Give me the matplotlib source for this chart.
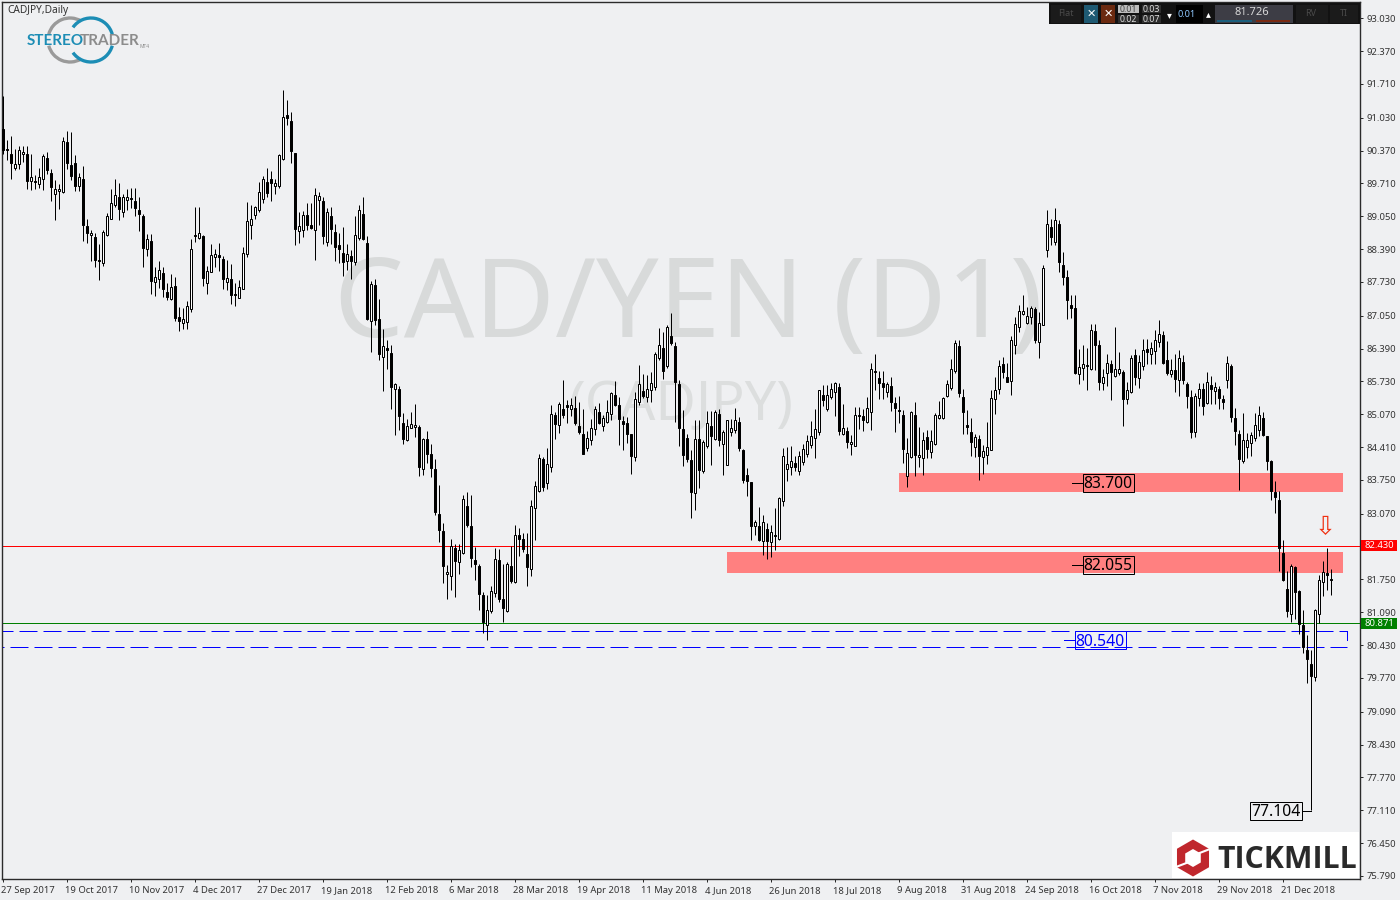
import matplotlib
matplotlib.use('Agg')
import matplotlib.pyplot as plt
from matplotlib.patches import Rectangle, RegularPolygon, Arc
from matplotlib.transforms import ScaledTranslation

# daily CADJPY candles
opens = [
    90.81, 90.40, 90.30, 90.02, 90.11, 90.31, 90.31, 89.75, 89.75, 89.70,
    89.79, 90.23, 89.93, 89.50, 89.56, 89.54, 90.55, 90.09, 90.13, 89.65,
    89.80, 88.86, 88.68, 88.64, 88.16, 88.12, 88.68, 89.00, 89.28, 89.44,
    89.14, 89.38, 89.42, 89.36, 89.18, 89.05, 88.40, 88.56, 87.73, 87.79,
    87.91, 87.53, 87.39, 87.65, 87.03, 86.91, 86.93, 87.19, 88.68, 88.62,
    88.66, 87.71, 87.94, 88.24, 88.28, 88.20, 87.73, 87.79, 87.49, 87.41,
    87.59, 88.30, 88.88, 89.07, 89.18, 89.40, 89.74, 89.80, 89.66, 89.66,
    90.20, 91.09, 90.97, 90.33, 88.76, 88.78, 89.08, 88.88, 88.78, 89.38,
    89.36, 88.54, 89.06, 88.74, 88.48, 88.32, 88.16, 88.26, 88.13, 88.61,
    89.10, 88.51, 86.95, 87.67, 86.98, 86.23, 86.40, 86.31, 85.58, 85.57,
    84.90, 84.56, 84.80, 84.81, 84.81, 83.98, 84.58, 84.27, 83.98, 83.07,
    82.72, 81.87, 81.83, 82.38, 82.11, 82.29, 83.22, 82.82, 82.15, 82.02,
    81.43, 80.83, 81.11, 81.47, 82.15, 81.35, 81.11, 82.03, 81.69, 82.65,
    82.57, 82.26, 81.97, 83.19, 83.53, 84.17, 83.68, 84.02, 85.05, 84.85,
    85.17, 85.25, 85.18, 85.19, 84.83, 84.68, 84.40, 84.55, 84.77, 85.11,
    84.84, 84.91, 85.07, 85.46, 85.25, 84.93, 84.89, 84.67, 84.22, 85.31,
    85.53, 85.42, 85.55, 85.62, 86.21, 86.41, 86.05, 86.64, 86.45, 85.67,
    84.77, 84.60, 84.16, 83.48, 84.57, 83.93, 84.43, 84.83, 84.58, 85.07,
    84.48, 84.06, 84.72, 84.75, 84.92, 84.36, 83.86, 83.70, 82.82, 82.82,
    82.53, 82.77, 82.51, 82.65, 82.57, 83.32, 83.98, 84.01, 84.10, 83.94,
    84.11, 84.28, 84.45, 84.60, 84.72, 85.45, 85.17, 85.42, 85.52, 85.61,
    84.68, 84.74, 84.47, 84.44, 85.05, 85.03, 84.92, 85.12, 85.94, 85.79,
    85.69, 85.52, 85.63, 85.29, 85.15, 85.06, 83.84, 84.21, 85.05, 84.21,
    84.20, 84.62, 84.31, 84.48, 85.00, 85.00, 85.44, 85.60, 85.94, 86.44,
    85.41, 84.85, 84.72, 84.42, 84.58, 84.22, 84.26, 84.36, 85.37, 85.57,
    86.09, 85.83, 85.73, 86.47, 86.83, 87.09, 86.90, 87.03, 87.18, 86.53,
    86.87, 88.38, 88.84, 88.54, 88.89, 88.08, 87.82, 87.26, 87.20, 85.89,
    86.01, 86.07, 85.98, 86.74, 86.47, 85.69, 85.91, 86.08, 85.84, 85.91,
    85.93, 85.38, 85.51, 86.26, 85.79, 86.05, 86.39, 86.29, 86.35, 86.53,
    86.67, 86.17, 85.89, 85.96, 85.75, 86.13, 85.67, 85.41, 84.71, 85.40,
    85.57, 85.29, 85.65, 85.53, 85.57, 85.37, 85.75, 86.04, 84.99, 84.68,
    84.13, 84.42, 84.50, 84.60, 84.76, 84.99, 84.63, 84.13, 83.51, 83.34,
    82.29, 81.55, 81.05, 82.00, 81.52, 80.83, 80.34, 80.06, 79.78, 81.05,
    81.70, 81.88, 81.75,
]
closes = [
    90.39, 90.38, 90.12, 90.11, 90.38, 90.35, 89.76, 89.85, 89.73, 89.85,
    90.27, 89.99, 89.64, 89.60, 89.60, 90.57, 90.12, 89.86, 89.66, 89.84,
    88.88, 88.71, 88.72, 88.18, 88.15, 88.74, 89.06, 89.31, 89.47, 89.19,
    89.44, 89.44, 89.39, 89.21, 89.09, 88.41, 88.60, 87.75, 87.83, 87.98,
    87.59, 87.43, 87.63, 87.00, 86.94, 86.99, 87.24, 88.40, 88.66, 88.71,
    87.81, 87.95, 88.28, 88.30, 88.23, 87.79, 87.81, 87.47, 87.46, 87.63,
    88.32, 88.96, 89.00, 89.23, 89.54, 89.80, 89.52, 89.72, 89.72, 90.29,
    91.05, 91.02, 90.36, 88.80, 88.86, 89.08, 88.87, 88.81, 89.48, 89.46,
    88.66, 89.14, 88.79, 88.43, 88.39, 88.14, 88.30, 88.15, 88.67, 89.18,
    88.59, 86.98, 87.69, 86.96, 86.29, 86.44, 86.37, 85.61, 85.67, 85.04,
    84.58, 84.83, 84.87, 84.85, 84.02, 84.58, 84.28, 84.00, 83.11, 82.75,
    82.03, 81.91, 82.42, 82.13, 82.35, 83.36, 82.85, 82.19, 82.07, 81.45,
    80.89, 81.13, 81.51, 82.17, 81.36, 81.18, 82.07, 81.72, 82.65, 82.57,
    82.37, 82.01, 83.23, 83.62, 84.20, 83.61, 84.08, 85.07, 84.87, 85.27,
    85.06, 85.22, 85.25, 84.90, 84.72, 84.28, 84.60, 84.79, 85.17, 84.90,
    84.99, 85.11, 85.49, 85.25, 84.98, 84.88, 84.68, 84.24, 85.37, 85.67,
    85.44, 85.57, 85.69, 86.29, 86.47, 85.94, 86.82, 86.51, 85.72, 84.80,
    84.26, 84.18, 83.51, 84.58, 83.96, 84.52, 84.90, 84.64, 85.12, 84.56,
    84.71, 84.95, 84.79, 84.96, 84.40, 83.75, 83.73, 82.83, 82.90, 82.55,
    82.90, 82.52, 82.71, 82.63, 83.39, 84.23, 84.08, 84.14, 84.01, 84.23,
    84.38, 84.54, 84.64, 84.78, 85.55, 85.36, 85.45, 85.57, 85.69, 84.74,
    84.80, 84.52, 84.52, 85.05, 85.03, 84.96, 85.19, 85.99, 85.92, 85.70,
    85.62, 85.67, 85.32, 85.20, 85.13, 84.37, 84.30, 85.11, 84.26, 84.26,
    84.56, 84.37, 84.54, 85.05, 85.05, 85.39, 85.67, 85.99, 86.51, 85.50,
    85.12, 84.81, 84.52, 84.62, 84.23, 84.34, 84.42, 85.39, 85.55, 86.05,
    85.92, 85.72, 86.57, 86.89, 87.15, 87.15, 87.05, 87.20, 86.57, 86.91,
    88.02, 88.90, 88.64, 88.97, 88.13, 87.82, 87.36, 87.21, 85.90, 86.03,
    86.09, 86.05, 86.77, 86.47, 85.72, 85.81, 86.11, 85.92, 85.98, 85.99,
    85.37, 85.55, 86.21, 85.82, 86.13, 86.36, 86.32, 86.41, 86.57, 86.69,
    86.10, 85.90, 85.97, 85.78, 86.21, 85.76, 85.44, 84.72, 85.43, 85.58,
    85.23, 85.71, 85.57, 85.61, 85.39, 85.31, 86.11, 85.02, 84.74, 84.17,
    84.55, 84.56, 84.66, 84.85, 85.05, 84.66, 84.13, 83.53, 83.41, 82.39,
    81.74, 81.12, 82.03, 81.50, 80.85, 80.40, 80.16, 79.80, 81.13, 81.73,
    81.91, 81.84, 81.73,
]
highs = [
    91.46, 90.58, 90.66, 90.41, 90.47, 90.46, 90.46, 90.30, 89.89, 90.03,
    90.30, 90.35, 90.01, 89.78, 89.70, 90.64, 90.77, 90.75, 90.29, 89.92,
    90.06, 89.00, 88.77, 88.71, 88.50, 88.78, 89.11, 89.60, 89.80, 89.72,
    89.50, 89.60, 89.62, 89.61, 89.43, 89.10, 88.70, 88.70, 88.04, 88.16,
    88.03, 87.71, 87.89, 87.83, 87.22, 87.21, 87.34, 88.60, 89.24, 89.23,
    88.68, 88.06, 88.50, 88.40, 88.52, 88.26, 88.18, 88.10, 87.70, 87.77,
    88.44, 89.33, 89.28, 89.25, 89.73, 89.86, 90.03, 89.97, 89.80, 90.30,
    91.58, 91.38, 91.14, 90.33, 89.13, 89.15, 89.31, 89.31, 89.62, 89.54,
    89.43, 89.21, 89.23, 88.90, 88.72, 88.83, 88.50, 88.37, 89.05, 89.27,
    89.43, 88.65, 87.75, 87.79, 87.38, 86.78, 86.57, 86.46, 85.70, 85.64,
    85.10, 84.98, 85.12, 85.27, 84.85, 84.60, 84.73, 84.48, 84.18, 83.65,
    82.89, 82.04, 82.56, 82.46, 82.47, 83.45, 83.51, 83.45, 82.41, 82.07,
    81.50, 81.43, 81.62, 82.39, 82.37, 82.06, 82.10, 82.43, 82.84, 82.78,
    82.69, 82.68, 83.35, 83.73, 84.27, 84.22, 84.40, 85.25, 85.12, 85.32,
    85.76, 85.36, 85.39, 85.44, 85.32, 85.17, 84.73, 84.97, 85.23, 85.30,
    85.05, 85.36, 85.52, 85.74, 85.42, 85.03, 85.01, 84.68, 85.52, 86.06,
    85.88, 85.87, 85.92, 86.33, 86.80, 86.73, 86.86, 87.10, 86.53, 85.76,
    85.15, 84.68, 84.35, 84.95, 84.95, 84.55, 85.14, 85.14, 85.15, 85.17,
    84.75, 84.96, 84.98, 85.19, 85.02, 84.38, 84.00, 83.71, 82.94, 83.20,
    83.04, 82.88, 82.84, 83.18, 83.40, 84.40, 84.41, 84.43, 84.23, 84.34,
    84.47, 84.65, 84.94, 85.17, 85.56, 85.66, 85.66, 85.69, 85.72, 85.70,
    85.27, 84.82, 84.65, 85.21, 85.22, 85.17, 85.41, 86.11, 86.29, 85.94,
    85.94, 85.72, 85.82, 85.42, 85.43, 85.15, 84.60, 85.13, 85.31, 84.82,
    84.72, 84.75, 84.75, 85.09, 85.33, 85.42, 85.76, 86.19, 86.56, 86.57,
    85.57, 85.15, 85.00, 84.68, 84.65, 84.45, 84.92, 85.55, 85.81, 86.17,
    86.22, 86.11, 86.64, 87.03, 87.26, 87.46, 87.23, 87.24, 87.22, 87.13,
    88.07, 89.17, 89.00, 89.21, 88.97, 88.33, 87.97, 87.46, 87.46, 86.38,
    86.46, 86.40, 86.88, 86.88, 86.56, 85.99, 86.29, 86.17, 86.83, 86.32,
    85.96, 85.72, 86.26, 86.39, 86.26, 86.59, 86.59, 86.53, 86.76, 86.97,
    86.75, 86.54, 86.19, 86.29, 86.36, 86.27, 85.72, 85.55, 85.49, 85.70,
    85.69, 85.92, 85.85, 85.72, 85.63, 85.45, 86.24, 86.09, 85.20, 84.75,
    85.09, 84.70, 84.72, 85.09, 85.23, 85.12, 84.63, 84.15, 83.73, 83.53,
    82.54, 81.92, 82.06, 82.02, 81.54, 81.13, 80.63, 80.34, 81.15, 81.84,
    82.12, 82.39, 81.96,
]
lows = [
    90.30, 90.18, 89.80, 89.98, 90.00, 90.14, 89.60, 89.57, 89.60, 89.61,
    89.57, 89.91, 89.36, 88.97, 89.19, 89.51, 90.01, 89.78, 89.56, 89.56,
    88.56, 88.51, 88.16, 88.03, 87.76, 88.06, 88.66, 88.99, 89.23, 88.98,
    89.03, 89.17, 89.22, 89.05, 88.75, 88.03, 88.26, 87.49, 87.45, 87.61,
    87.43, 87.36, 87.36, 86.94, 86.74, 86.79, 86.78, 87.12, 88.54, 88.60,
    87.64, 87.49, 87.93, 88.04, 87.96, 87.59, 87.56, 87.29, 87.24, 87.41,
    87.59, 88.23, 88.59, 89.00, 89.13, 89.31, 89.43, 89.36, 89.49, 89.61,
    90.18, 90.88, 90.12, 88.48, 88.51, 88.63, 88.77, 88.80, 88.18, 88.87,
    88.50, 88.46, 88.50, 88.16, 88.11, 87.86, 87.97, 87.79, 88.07, 88.58,
    88.58, 86.96, 86.33, 86.86, 86.16, 85.54, 85.99, 85.17, 84.65, 84.75,
    84.48, 84.54, 84.79, 84.62, 83.83, 83.85, 84.09, 83.81, 83.04, 82.51,
    81.67, 81.36, 81.54, 81.40, 81.86, 82.27, 82.81, 82.00, 81.74, 81.14,
    80.68, 80.53, 81.07, 81.40, 81.30, 80.90, 81.10, 81.67, 81.68, 82.22,
    82.31, 81.62, 81.82, 82.54, 83.51, 83.53, 83.56, 83.91, 84.58, 84.70,
    85.00, 84.89, 85.03, 84.85, 84.67, 84.27, 84.34, 84.45, 84.65, 84.87,
    84.74, 84.89, 84.95, 85.23, 84.45, 84.35, 84.50, 83.87, 84.14, 85.25,
    85.39, 85.32, 85.32, 85.56, 86.16, 85.77, 86.01, 86.46, 84.92, 84.44,
    84.03, 84.11, 82.99, 83.14, 83.58, 83.89, 84.40, 84.05, 84.56, 84.43,
    83.85, 84.05, 84.63, 84.70, 84.34, 83.69, 83.43, 82.54, 82.64, 82.53,
    82.24, 82.16, 82.21, 82.34, 82.54, 83.23, 83.73, 83.85, 83.93, 83.85,
    84.05, 84.22, 84.40, 84.19, 84.65, 85.24, 85.14, 85.38, 85.03, 84.65,
    84.65, 84.40, 84.25, 84.43, 84.78, 84.74, 84.90, 84.75, 85.55, 85.37,
    85.38, 85.42, 85.14, 84.71, 84.90, 84.09, 83.61, 84.20, 83.83, 84.01,
    83.85, 84.20, 84.20, 84.45, 84.98, 84.98, 85.41, 85.55, 85.90, 85.41,
    84.68, 84.68, 84.23, 84.22, 83.75, 83.87, 84.07, 84.35, 85.07, 85.47,
    85.79, 85.72, 85.45, 86.28, 86.73, 87.06, 86.88, 86.89, 86.51, 86.21,
    86.86, 88.24, 88.47, 88.47, 87.93, 87.67, 86.98, 87.01, 85.89, 85.67,
    85.76, 85.55, 85.96, 85.97, 85.55, 85.55, 85.63, 85.35, 85.82, 85.86,
    84.83, 85.27, 85.50, 85.65, 85.59, 85.96, 86.09, 86.09, 86.09, 86.42,
    86.09, 85.87, 85.82, 85.52, 85.44, 85.67, 85.20, 84.60, 84.62, 85.24,
    85.06, 85.27, 85.27, 85.27, 85.17, 85.17, 85.60, 84.92, 84.45, 83.54,
    84.09, 84.20, 84.23, 84.54, 84.64, 84.63, 83.95, 83.35, 83.08, 81.92,
    81.72, 81.00, 80.90, 80.96, 80.65, 80.28, 79.66, 77.11, 79.70, 80.87,
    81.42, 81.54, 81.44,
]

date_labels = ['27 Sep 2017', '19 Oct 2017', '10 Nov 2017', '4 Dec 2017', '27 Dec 2017',
               '19 Jan 2018', '12 Feb 2018', '6 Mar 2018', '28 Mar 2018', '19 Apr 2018',
               '11 May 2018', '4 Jun 2018', '26 Jun 2018', '18 Jul 2018', '9 Aug 2018',
               '31 Aug 2018', '24 Sep 2018', '16 Oct 2018', '7 Nov 2018', '29 Nov 2018',
               '21 Dec 2018']
price_ticks = [93.03, 92.37, 91.71, 91.03, 90.37, 89.71, 89.05, 88.39, 87.73, 87.05,
               86.39, 85.73, 85.07, 84.41, 83.75, 83.07, 82.41, 81.75, 81.09, 80.43,
               79.77, 79.09, 78.43, 77.77, 77.11, 76.45, 75.79]

# price levels drawn on the chart
ask_line = 82.43
bid_line = 80.871
zone_upper = (83.51, 83.89)
zone_lower = (81.88, 82.30)
channel = (80.71, 80.39)
low_mark = 77.104

BG = '#EFF0F2'
DARK = '#2b2b2b'
TXT = '#333333'
RED = '#FF0000'
GREEN = '#008000'
BLUE = '#0000FF'
PX = 0.72   # one pixel as a line width
X0 = 2.8    # pixel of the first candle

plt.rcParams['font.family'] = ['Noto Sans', 'DejaVu Sans']

fig = plt.figure(figsize=(14, 9), dpi=100, facecolor=BG)

# main chart, candle i sits on pixel X0 + 4i
ax = fig.add_axes([2 / 1400, 1 - 879 / 900, 1358 / 1400, 877 / 900], facecolor=BG, zorder=1)
x_left = (2 - X0) / 4
ax.set_xlim(x_left, (1360 - X0) / 4)
ax.set_ylim(93.03 - (879 - 18.3) / 49.75, 93.03 + 16.3 / 49.75)

# overlay in plain pixels for the logos, toolbar and price tags
ov = fig.add_axes([0, 0, 1, 1], zorder=2)
ov.set_xlim(0, 1400)
ov.set_ylim(900, 0)
ov.axis('off')
ov.patch.set_visible(False)

# watermark
ax.text(334, 337, 'CAD/YEN (D1)', transform=ov.transData, fontsize=79.5, color='#D8DADA',
        ha='left', va='baseline', zorder=0)
ax.text(569, 420, '(CADJPY)', transform=ov.transData, fontsize=40, color='#DCDEDE',
        ha='left', va='baseline', zorder=0)

# zones
ax.add_patch(Rectangle((224.05, zone_upper[0]), 111, zone_upper[1] - zone_upper[0],
                       fc='#FF8080', ec='none', zorder=1))
ax.add_patch(Rectangle((181.05, zone_lower[0]), 154, zone_lower[1] - zone_lower[0],
                       fc='#FF8080', ec='none', zorder=1))

# level lines
ax.axhline(ask_line, color=RED, lw=PX, zorder=2)
ax.axhline(bid_line, color=GREEN, lw=PX, zorder=2)
ax.plot([x_left, 336.05], [channel[0], channel[0]], color=BLUE, lw=PX,
        linestyle=(7, (18, 6)), zorder=2)
ax.plot([x_left, 336.05], [channel[1], channel[1]], color=BLUE, lw=PX,
        linestyle=(16, (18, 6)), zorder=2)
ax.plot([336.05, 336.05], [channel[0], 80.53], color=BLUE, lw=PX, zorder=2)

# candles
xs = list(range(len(opens)))
ax.vlines(xs, lows, highs, color='black', lw=PX, zorder=3)
for x, o, c in zip(xs, opens, closes):
    up = c > o
    bottom = min(o, c)
    height = max(abs(c - o), 0.02)
    ax.bar(x, height, 0.5, bottom, color='white' if up else 'black', edgecolor='black',
           linewidth=PX, zorder=4)

# axes
for side in ['left', 'top', 'bottom', 'right']:
    ax.spines[side].set_color(DARK)
    ax.spines[side].set_linewidth(1.0)
ax.yaxis.tick_right()
ax.set_yticks(price_ticks)
# 82.410 sits under the red price tag
ax.set_yticklabels(['' if p == 82.41 else '%.3f' % p for p in price_ticks])
ax.set_xticks([16 * i for i in range(len(date_labels))])
ax.set_xticklabels(date_labels, ha='left', va='baseline')
ax.tick_params(axis='y', length=2.2, width=PX, color=DARK, labelcolor=TXT, labelsize=6.8, pad=2.8)
ax.tick_params(axis='x', length=2.2, width=PX, color=DARK, labelcolor=TXT, labelsize=6.8, pad=7.8)
shift = ScaledTranslation(-1.5 / 100, 0, fig.dpi_scale_trans)
for lab in ax.get_xticklabels():
    lab.set_transform(lab.get_transform() + shift)

# right hand price tags
ov.add_patch(Rectangle((1361, 540), 36, 11, fc=RED, ec='none'))
ov.text(1379, 545.5, '%.3f' % ask_line, color='white', fontsize=6.8, ha='center', va='center')
ov.add_patch(Rectangle((1361, 617.5), 36, 11, fc=GREEN, ec='none'))
ov.text(1379, 623, '%.3f' % bid_line, color='white', fontsize=6.8, ha='center', va='center')

# boxed price labels
box_font = 11.3
ov.plot([1072, 1082], [482.5, 482.5], color='black', lw=PX)
ov.text(1108, 482.5, '83.700', fontsize=box_font, color='black', ha='center', va='center_baseline')
ov.add_patch(Rectangle((1082.5, 473.5), 51, 18.5, fc='none', ec='black', lw=PX))
ov.plot([1072, 1082], [564.5, 564.5], color='black', lw=PX)
ov.text(1108, 564.5, '82.055', fontsize=box_font, color='black', ha='center', va='center_baseline')
ov.add_patch(Rectangle((1082.5, 555.5), 51, 18.5, fc='none', ec='black', lw=PX))
ov.plot([1064, 1074], [639.5, 639.5], color=BLUE, lw=PX)
ov.text(1100, 639.5, '80.540', fontsize=box_font, color=BLUE, ha='center', va='center_baseline')
ov.add_patch(Rectangle((1074.5, 630.5), 51, 18, fc='none', ec=BLUE, lw=PX))
ov.plot([1302, 1311], [810.5, 810.5], color='black', lw=PX)
ov.text(1275.5, 810.5, '%.3f' % low_mark, fontsize=box_font, color='black', ha='center',
        va='center_baseline')
ov.add_patch(Rectangle((1249.5, 801.5), 52, 18, fc='none', ec='black', lw=PX))

# red arrow above the last candles
ov.text(1325.5, 527, '\u21e9', family='DejaVu Sans', fontsize=18, color='#F03010', ha='center', va='center')

# symbol title
ov.text(7, 10.5, 'CADJPY,Daily', fontsize=7.3, color=TXT, ha='left', va='center')

# stereotrader logo
for start, end in [(195, 300), (60, 165)]:
    ov.add_patch(Arc((70, 40), 44, 44, theta1=start, theta2=end, color='#9a9a9a', lw=2.4))
for start, end in [(215, 345), (15, 145)]:
    ov.add_patch(Arc((91, 40), 44, 44, theta1=start, theta2=end, color='#1C8DB5', lw=2.4))
ov.text(55, 41, 'STEREO', family='Lato', weight='bold', fontsize=11, color='#1C8DB5',
        ha='center', va='center')
ov.text(110, 41, 'TRADER', family='Lato', weight='bold', fontsize=11, color='#8c8c8c',
        ha='center', va='center')
ov.text(145, 47, 'MT4', fontsize=3.5, color='#8c8c8c', ha='center', va='center')

# tickmill logo
ov.add_patch(Rectangle((1172, 832), 187, 46, fc='white', ec='none'))
ov.add_patch(RegularPolygon((1193, 858), 6, radius=18.5, fc='#C0272D', ec='none'))
ov.add_patch(RegularPolygon((1193, 858), 6, radius=9, fc='white', ec='none'))
ov.plot([1176, 1189], [867, 862], color='white', lw=1.5)
ov.plot([1197, 1210], [854, 849], color='white', lw=1.5)
ov.text(1217, 868, 'TICKMILL', family='Open Sans', weight='bold', fontsize=21.8, color='#2a2a2a',
        ha='left', va='baseline')

# trading toolbar
ov.add_patch(Rectangle((1049, 3), 311, 21, fc='#121212', ec='none'))
for x0, x1 in [(1051, 1081), (1296, 1328), (1330, 1358)]:
    ov.add_patch(Rectangle((x0, 5), x1 - x0, 18, fc='#1b1b1b', ec='none'))
ov.text(1066, 13.5, 'Flat', fontsize=6.5, color='#4a4a4a', ha='center', va='center')
ov.add_patch(Rectangle((1084, 5), 14, 18, fc='#1F5A73', ec='none'))
ov.text(1091, 14, '\u2715', family='DejaVu Sans', fontsize=8, color='white', ha='center', va='center')
ov.add_patch(Rectangle((1101, 5), 14, 18, fc='#6B2A10', ec='none'))
ov.text(1108, 14, '\u2715', family='DejaVu Sans', fontsize=8, color='white', ha='center', va='center')
ov.add_patch(Rectangle((1118, 5), 21, 8, fc='#bdbdbd', ec='none'))
ov.add_patch(Rectangle((1118, 15), 21, 8, fc='#2e2e2e', ec='none'))
ov.add_patch(Rectangle((1142, 5), 19, 8, fc='#2e2e2e', ec='none'))
ov.add_patch(Rectangle((1142, 15), 19, 8, fc='#2e2e2e', ec='none'))
ov.text(1128.5, 9.5, '0.01', fontsize=6.3, color='#444444', ha='center', va='center')
ov.text(1128.5, 19.5, '0.02', fontsize=6.3, color='#dddddd', ha='center', va='center')
ov.text(1151.5, 9.5, '0.03', fontsize=6.3, color='#dddddd', ha='center', va='center')
ov.text(1151.5, 19.5, '0.07', fontsize=6.3, color='#dddddd', ha='center', va='center')
ov.text(1169.5, 15, '\u25be', family='DejaVu Sans', fontsize=7, color='white', ha='center', va='center')
ov.add_patch(Rectangle((1176, 5), 27, 18, fc='black', ec='none'))
ov.text(1187, 14.5, '0.01', fontsize=6.5, color='#8fc8ff', ha='center', va='center')
ov.text(1208, 14, '\u25b4', family='DejaVu Sans', fontsize=7, color='white', ha='center', va='center')
ov.add_patch(Rectangle((1215, 5), 78, 18, fc='#3d3d45', ec='none'))
ov.text(1252, 12.5, '81.726', fontsize=8, color='#d8d8d8', ha='center', va='center')
ov.add_patch(Rectangle((1217, 20), 35, 1.5, fc='#1B5F7D', ec='none'))
ov.add_patch(Rectangle((1256, 20), 34, 1.5, fc='#7A2A12', ec='none'))
ov.text(1311, 13.5, 'RV', fontsize=6.5, color='#4a4a4a', ha='center', va='center')
ov.text(1344, 13.5, 'TI', fontsize=6.5, color='#4a4a4a', ha='center', va='center')

fig.savefig('out.png', dpi=100, facecolor=BG)
